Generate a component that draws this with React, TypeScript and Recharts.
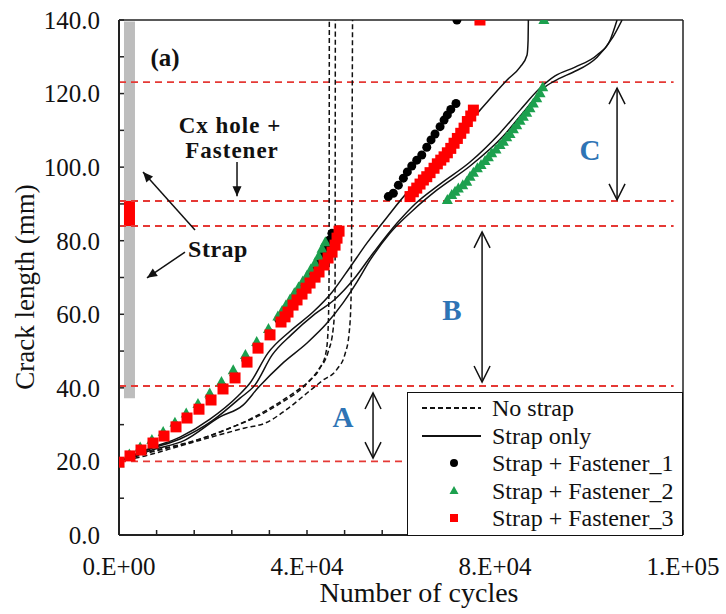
import React from "react"
import {
  ComposedChart,
  Line,
  Scatter,
  XAxis,
  YAxis,
  ReferenceLine,
  ReferenceArea,
  ReferenceDot,
  Legend,
} from "recharts"

type Pt = [number, number]

// axes
const xTicks = [0, 8000, 16000, 24000, 32000, 40000, 48000, 56000, 64000, 72000, 80000, 88000, 96000, 104000, 112000, 120000]
const yTicks = [0, 10, 20, 30, 40, 50, 60, 70, 80, 90, 100, 110, 120, 130, 140]

// stage boundaries (red dashed)
const stageLevels = [20, 40.5, 84, 90.8, 123.1]

// No strap runs
const noStrap1: Pt[] = [[0, 20], [6600, 22.6], [15110, 25.3], [22560, 28.5], [27880, 31.5], [33200, 35.3], [37450, 38.9], [40640, 42.1], [42770, 45.4], [44050, 49.7], [44480, 55.7], [44690, 69.3], [44750, 140]]
const noStrap2: Pt[] = [[0, 20], [7020, 22.6], [16170, 25.6], [23620, 29.1], [29580, 32.3], [34690, 36.1], [38940, 39.9], [42350, 44.8], [44480, 49.7], [45540, 55.7], [45960, 63.9], [46030, 140]]
const noStrap3: Pt[] = [[0, 20], [5530, 21.5], [12980, 24.2], [20430, 26.9], [26820, 29.1], [31070, 30.4], [35750, 34.2], [40010, 38.6], [43200, 41.9], [46390, 45.1], [48090, 49.2], [48940, 54.6], [49370, 64.1], [49690, 140]]

// Strap only runs
const strapOnly1: Pt[] = [[0, 20], [6600, 23.6], [12980, 26.6], [19360, 31.5], [25320, 37.8], [27880, 41.3], [31710, 49.5], [36390, 55.4], [41280, 60.6], [45330, 66.0], [49160, 72.8], [52780, 79.4], [57030, 86.4], [61290, 93.0], [65540, 97.6], [71080, 107.4], [76820, 115.5], [82570, 123.7], [85330, 127.2], [86820, 130.5], [87040, 134.5], [87100, 140]]
const strapOnly2: Pt[] = [[0, 20], [6600, 23.4], [12980, 26.1], [19790, 31.0], [25750, 37.2], [28940, 40.8], [32560, 48.9], [36810, 54.6], [41710, 60.1], [45960, 64.1], [49800, 69.3], [54050, 76.6], [59160, 84.8], [62990, 90.0], [68310, 95.4], [74690, 101.4], [81080, 109.3], [85330, 115.5], [89590, 121.5], [92780, 124.8], [97040, 127.2], [101720, 130.5], [104480, 134.5], [105970, 140]]
const strapOnly3: Pt[] = [[0, 20], [7020, 23.1], [14040, 25.8], [21490, 32.1], [26390, 35.3], [29580, 40.0], [34900, 46.8], [40010, 52.2], [44260, 57.6], [47670, 63.1], [50650, 68.8], [53410, 74.7], [57670, 82.1], [62570, 88.3], [67670, 93.8], [74690, 100.3], [81720, 108.4], [86400, 115.5], [90650, 121.8], [93840, 124.2], [96610, 125.8], [101720, 129.9], [105120, 135.4], [107040, 140]]

// Strap + fastener specimens
const fastener1: Pt[] = [
  [0, 20], [2300, 21.6], [4600, 23.3], [7100, 25.2], [9500, 27.1], [12000, 29.7], [14400, 32.1], [16900, 34.6], [19400, 37.2], [22000, 40.3], [24500, 43.4], [27000, 47.6], [29400, 51.4], [32000, 55.0], [34000, 58.6], [34900, 60.1], [35700, 61.6], [36600, 63.2], [37500, 64.8], [38400, 66.4], [39300, 68.0], [40200, 69.5], [41000, 71.2], [41900, 72.8], [42700, 74.5], [43500, 76.3], [44200, 78.3], [44800, 80.2], [45300, 82.0],
  [57300, 92.0], [58370, 92.9], [59440, 95.1], [60500, 97.0], [61350, 98.7], [62290, 100.3], [63350, 101.9], [64420, 103.3], [65480, 105.4], [66390, 107.4], [67240, 109.0], [68310, 111.0], [69160, 112.8], [69860, 114.2], [70590, 115.7], [71700, 117.3],
  [71900, 140],
]
const fastener2: Pt[] = [
  [0, 19.5], [2200, 21.9], [4500, 23.8], [7000, 25.8], [9400, 28.0], [11900, 30.5], [14300, 33.0], [16800, 35.6], [19300, 38.5], [21800, 41.6], [24300, 44.8], [26900, 48.9], [29300, 52.5], [31800, 56.0], [33800, 59.4], [34700, 60.9], [35500, 62.4], [36400, 64.0], [37300, 65.7], [38200, 67.3], [39100, 68.9], [40000, 70.5], [40800, 72.2], [41700, 73.9], [42500, 75.8], [43200, 77.8], [43900, 79.6],
  [69860, 91.1], [70800, 92.4], [71500, 93.3], [72200, 94.2], [73140, 95.1], [73990, 96.0], [74690, 97.4], [75400, 98.5], [76250, 99.7], [77030, 100.6], [77880, 101.7], [78590, 102.7], [79300, 103.8], [80220, 104.8], [81070, 106.0], [81780, 106.9], [82500, 108.1], [83200, 109.0], [83910, 110.3], [84630, 111.4], [85330, 112.6], [86030, 113.7], [86750, 114.8], [87450, 116.0], [88150, 117.3], [88890, 118.7], [89590, 120.1], [90160, 121.7],
  [90400, 140],
]
const fastener3: Pt[] = [
  [0, 19.8], [2340, 21.5], [4680, 23.1], [7230, 25.0], [9580, 26.9], [12130, 29.4], [14470, 31.8], [17020, 34.2], [19580, 36.7], [22130, 39.7], [24690, 42.7], [27240, 47.0], [29580, 50.8], [32130, 54.4], [34470, 57.9], [35330, 59.3], [35960, 60.6], [37030, 62.5], [37880, 63.9], [38940, 65.5], [39800, 67.1], [40650, 68.5], [41710, 70.1], [42560, 71.5], [43620, 73.4], [44480, 75.3], [45330, 76.9], [45970, 78.8], [46390, 80.7], [46820, 82.6],
  [61920, 92.0], [62630, 93.3], [63350, 94.3], [64050, 95.4], [64760, 96.5], [65480, 97.4], [66180, 98.5], [67030, 99.7], [67730, 100.9], [68460, 101.9], [69160, 102.8], [69860, 103.9], [70590, 105.1], [71290, 106.5], [71990, 107.8], [72710, 109.2], [73420, 110.6], [74120, 112.4], [74840, 113.9], [75400, 115.5],
  [76800, 140],
]

const SERIF = "Liberation Serif, DejaVu Serif, serif"
const RED = "#ff0000"
const GREEN = "#1ca04e"
const BLUE = "#2e74b5"
const INK = "#111"

const toXY = (a: Pt[]) => a.map(([x, y]) => ({ x, y }))

function fmtCycles(v: number) {
  if (v % 40000 !== 0) return ""
  if (v === 0) return "0.E+00"
  const e = Math.floor(Math.log10(v))
  const m = Math.round(v / Math.pow(10, e))
  return `${m}.E+${String(e).padStart(2, "0")}`
}

const circleShape = (p: any) => <circle cx={p.cx} cy={p.cy} r={4.5} fill="#000" />
const squareShape = (p: any) => <rect x={p.cx - 5.5} y={p.cy - 5.5} width={11} height={11} fill={RED} />
const triangleShape = (p: any) => (
  <polygon points={`${p.cx},${p.cy - 6} ${p.cx + 5.5},${p.cy + 4} ${p.cx - 5.5},${p.cy + 4}`} fill={GREEN} />
)

function arrowShape(both: boolean, open: boolean, len: number, half: number) {
  return (p: any) => {
    const { x1, y1, x2, y2 } = p
    const head = (tx: number, ty: number, fx: number, fy: number) => {
      const a = Math.atan2(ty - fy, tx - fx)
      const bx = tx - len * Math.cos(a)
      const by = ty - len * Math.sin(a)
      const nx = -Math.sin(a) * half
      const ny = Math.cos(a) * half
      const d = `M${bx + nx},${by + ny}L${tx},${ty}L${bx - nx},${by - ny}`
      return open ? <path d={d} fill="none" stroke={INK} strokeWidth={1.5} /> : <path d={d + "Z"} fill={INK} />
    }
    return (
      <g>
        <line x1={x1} y1={y1} x2={x2} y2={y2} stroke={INK} strokeWidth={1.5} />
        {head(x2, y2, x1, y1)}
        {both && head(x1, y1, x2, y2)}
      </g>
    )
  }
}

const textMark = (text: string, size: number, color: string, spacing: number) => (p: any) => (
  <text
    x={p.cx}
    y={p.cy}
    textAnchor="middle"
    dominantBaseline="central"
    fontFamily={SERIF}
    fontWeight="bold"
    fontSize={size}
    letterSpacing={spacing}
    fill={color}
  >
    {text}
  </text>
)

const notes = [
  { text: "(a)", x: 9790, y: 129.9, size: 25, color: INK, spacing: 0 },
  { text: "Cx hole +", x: 23620, y: 111.4, size: 23, color: INK, spacing: 1 },
  { text: "Fastener", x: 24050, y: 104.6, size: 23, color: INK, spacing: 1 },
  { text: "Strap", x: 21070, y: 77.7, size: 24, color: INK, spacing: 0.5 },
  { text: "A", x: 47670, y: 32.1, size: 29, color: BLUE, spacing: 0 },
  { text: "B", x: 70860, y: 61.2, size: 29, color: BLUE, spacing: 0 },
  { text: "C", x: 100230, y: 104.6, size: 29, color: BLUE, spacing: 0 },
]

const arrows = [
  { from: [16170, 82.9], to: [5110, 98.7], both: false },
  { from: [14040, 76.9], to: [5960, 69.9], both: false },
  { from: [25110, 101.4], to: [25110, 92.1], both: false },
  { from: [54050, 38.6], to: [54050, 20.9], both: true },
  { from: [77250, 82.4], to: [77250, 41.6], both: true },
  { from: [105970, 121.5], to: [105970, 91.1], both: true },
]

const legendItems = [
  { name: "No strap", kind: "dash" },
  { name: "Strap only", kind: "solid" },
  { name: "Strap + Fastener_1", kind: "circle" },
  { name: "Strap + Fastener_2", kind: "triangle" },
  { name: "Strap + Fastener_3", kind: "square" },
]

function LegendIcon({ kind }: { kind: string }) {
  return (
    <svg width={80} height={20} style={{ display: "block" }}>
      {kind === "dash" && <line x1={14} x2={73} y1={10} y2={10} stroke={INK} strokeWidth={1.8} strokeDasharray="5 3" />}
      {kind === "solid" && <line x1={14} x2={73} y1={10} y2={10} stroke={INK} strokeWidth={1.8} />}
      {kind === "circle" && <circle cx={46} cy={10} r={4} fill="#000" />}
      {kind === "triangle" && <polygon points="46,5 50.5,13 41.5,13" fill={GREEN} />}
      {kind === "square" && <rect x={42} y={6} width={8} height={8} fill={RED} />}
    </svg>
  )
}

const renderLegend = () => (
  <div
    style={{
      position: "relative",
      width: 276,
      height: 144,
      border: "1.5px solid #111",
      background: "#fff",
      boxSizing: "border-box",
      fontFamily: SERIF,
    }}
  >
    {legendItems.map((it, i) => (
      <div
        key={it.name}
        style={{ position: "absolute", left: 0, top: 1 + i * 27.5, height: 28, display: "flex", alignItems: "center" }}
      >
        <LegendIcon kind={it.kind} />
        <span style={{ marginLeft: 4, fontSize: 24, fontFamily: SERIF, color: INK, lineHeight: "28px", whiteSpace: "nowrap" }}>{it.name}</span>
      </div>
    ))}
  </div>
)

export default function App() {
  const axisStroke = { stroke: "#222", strokeWidth: 2 }
  return (
    <div style={{ position: "absolute", left: 0, top: 0, width: 726, height: 614, background: "#fff", fontFamily: SERIF }}>
      <ComposedChart width={726} height={614} margin={{ top: 20, right: 43, bottom: 0, left: 0 }} style={{ fontFamily: SERIF }}>
        <XAxis
          dataKey="x"
          type="number"
          domain={[0, 120000]}
          ticks={xTicks}
          interval={0}
          tickFormatter={fmtCycles}
          tickSize={-5}
          tickMargin={27}
          height={79}
          axisLine={axisStroke}
          tickLine={{ stroke: "#222", strokeWidth: 1.5 }}
          tick={{ fill: INK, fontSize: 25, fontFamily: SERIF }}
          allowDataOverflow
        />
        <YAxis
          dataKey="y"
          type="number"
          domain={[0, 140]}
          ticks={yTicks}
          interval={0}
          tickFormatter={(v: number) => (v % 20 === 0 ? v.toFixed(1) : "")}
          tickSize={-5}
          tickMargin={24}
          width={119}
          axisLine={axisStroke}
          tickLine={{ stroke: "#222", strokeWidth: 1.5 }}
          tick={{ fill: INK, fontSize: 25, fontFamily: SERIF }}
          allowDataOverflow
        />

        <ReferenceLine y={140} stroke="#222" strokeWidth={1.5} />
        <ReferenceLine x={120000} stroke="#222" strokeWidth={1.5} />

        <ReferenceArea x1={1060} x2={3400} y1={37.2} y2={139.6} fill="#bdbdbd" fillOpacity={1} stroke="none" />
        <ReferenceArea x1={1060} x2={3400} y1={84} y2={90.8} fill={RED} fillOpacity={1} stroke="none" />

        {stageLevels.map((v) => (
          <ReferenceLine
            key={"lvl" + v}
            segment={[{ x: 0, y: v }, { x: 118000, y: v }]}
            stroke="#e53935"
            strokeWidth={1.8}
            strokeDasharray="7 5"
          />
        ))}

        {[noStrap1, noStrap2, noStrap3].map((d, i) => (
          <Line
            key={"ns" + i}
            name="No strap"
            data={toXY(d)}
            dataKey="y"
            type="monotone"
            stroke={INK}
            strokeWidth={1.5}
            strokeDasharray="5 3"
            dot={false}
            activeDot={false}
            isAnimationActive={false}
          />
        ))}
        {[strapOnly1, strapOnly2, strapOnly3].map((d, i) => (
          <Line
            key={"so" + i}
            name="Strap only"
            data={toXY(d)}
            dataKey="y"
            type="monotone"
            stroke={INK}
            strokeWidth={1.5}
            dot={false}
            activeDot={false}
            isAnimationActive={false}
          />
        ))}

        <Scatter name="Strap + Fastener_1" data={toXY(fastener1)} dataKey="y" shape={circleShape} isAnimationActive={false} />
        <Scatter name="Strap + Fastener_2" data={toXY(fastener2)} dataKey="y" shape={triangleShape} isAnimationActive={false} />
        <Scatter name="Strap + Fastener_3" data={toXY(fastener3)} dataKey="y" shape={squareShape} isAnimationActive={false} />

        {arrows.map((a, i) => (
          <ReferenceLine
            key={"arr" + i}
            segment={[{ x: a.from[0], y: a.from[1] }, { x: a.to[0], y: a.to[1] }]}
            ifOverflow="visible"
            shape={a.both ? arrowShape(true, true, 16, 8) : arrowShape(false, false, 10, 4.5)}
          />
        ))}

        {notes.map((n) => (
          <ReferenceDot
            key={n.text}
            x={n.x}
            y={n.y}
            r={0}
            ifOverflow="visible"
            shape={textMark(n.text, n.size, n.color, n.spacing)}
          />
        ))}

        <Legend
          layout="vertical"
          align="center"
          verticalAlign="middle"
          wrapperStyle={{ left: 407, top: 392, width: 276, height: 144 }}
          content={renderLegend}
        />
      </ComposedChart>

      <div
        style={{
          position: "absolute",
          left: 219,
          top: 577,
          width: 400,
          textAlign: "center",
          fontSize: 28,
          lineHeight: "32px",
          fontFamily: SERIF,
          color: INK,
          whiteSpace: "nowrap",
        }}
      >
        Number of cycles
      </div>
      <div
        style={{
          position: "absolute",
          left: 25 - 150,
          top: 287 - 15,
          width: 300,
          height: 30,
          textAlign: "center",
          fontSize: 27,
          lineHeight: "30px",
          fontFamily: SERIF,
          color: INK,
          whiteSpace: "nowrap",
          transform: "rotate(-90deg)",
        }}
      >
        Crack length (mm)
      </div>
    </div>
  )
}
